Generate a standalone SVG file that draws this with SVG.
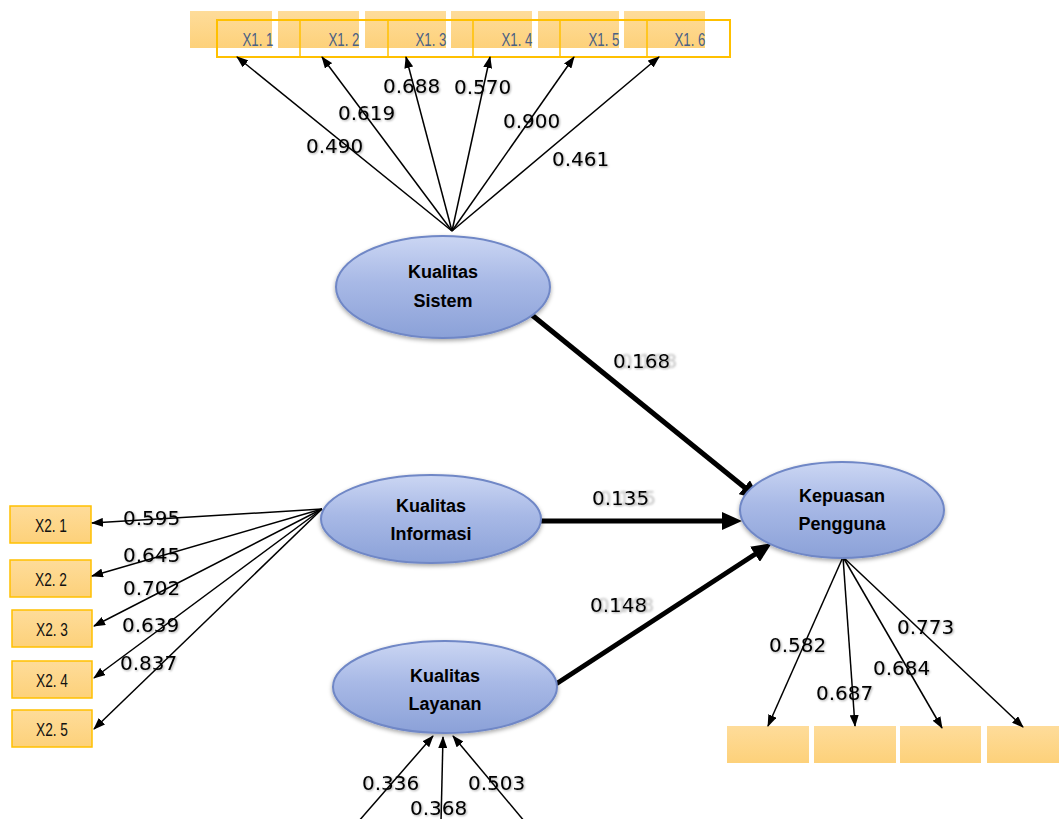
<svg xmlns="http://www.w3.org/2000/svg" width="1059" height="819" viewBox="0 0 1059 819">
<defs>
<linearGradient id="gEll" x1="0" y1="0" x2="0" y2="1">
<stop offset="0" stop-color="#cbd6f3"/>
<stop offset="0.45" stop-color="#a8b9e6"/>
<stop offset="1" stop-color="#8ba1d8"/>
</linearGradient>
<linearGradient id="gBox" x1="0" y1="0" x2="0" y2="1">
<stop offset="0" stop-color="#fedc9a"/>
<stop offset="1" stop-color="#fdd17a"/>
</linearGradient>
<filter id="sh" x="-20%" y="-20%" width="140%" height="150%">
<feDropShadow dx="0" dy="2" stdDeviation="2" flood-color="#000" flood-opacity="0.35"/>
</filter>
<filter id="tsh" x="-10%" y="-30%" width="130%" height="160%">
<feDropShadow dx="1" dy="1" stdDeviation="0.8" flood-color="#000" flood-opacity="0.35"/>
</filter>
<filter id="ghost" x="-10%" y="-30%" width="140%" height="160%">
<feOffset in="SourceAlpha" dx="7" dy="0" result="off"/>
<feGaussianBlur in="off" stdDeviation="0.8" result="offb"/>
<feFlood flood-color="#9a9a9a" flood-opacity="0.6" result="gc"/>
<feComposite in="gc" in2="offb" operator="in" result="g"/>
<feOffset in="SourceAlpha" dx="1" dy="1" result="s1"/>
<feGaussianBlur in="s1" stdDeviation="0.8" result="s2"/>
<feFlood flood-color="#000" flood-opacity="0.35" result="sc"/>
<feComposite in="sc" in2="s2" operator="in" result="s"/>
<feMerge><feMergeNode in="g"/><feMergeNode in="s"/><feMergeNode in="SourceGraphic"/></feMerge>
</filter>
<marker id="ah" viewBox="0 0 12 9" markerWidth="12" markerHeight="9" refX="11" refY="4.5" orient="auto" markerUnits="userSpaceOnUse">
<path d="M0,0 L12,4.5 L0,9 z" fill="#000"/>
</marker>
<marker id="ahT" viewBox="0 0 20 18" markerWidth="20" markerHeight="18" refX="6" refY="9" orient="auto" markerUnits="userSpaceOnUse">
<path d="M0,0 L20,9 L0,18 z" fill="#000"/>
</marker>
</defs>
<style>
.ell{fill:url(#gEll);stroke:#6f87c6;stroke-width:2;filter:url(#sh)}
.lt{font-family:"Liberation Sans",Arial,sans-serif;font-weight:bold;font-size:18px;fill:#000;text-anchor:middle}
.num{font-family:"DejaVu Sans",sans-serif;font-size:20px;fill:#000;filter:url(#tsh)}
.numg{font-family:"DejaVu Sans",sans-serif;font-size:20px;fill:#000;filter:url(#ghost)}
.thin{stroke:#000;stroke-width:1.5;fill:none;marker-end:url(#ah)}
.thick{stroke:#000;stroke-width:5;fill:none;marker-end:url(#ahT)}
.tbox{fill:url(#gBox)}
.obox{fill:none;stroke:#ffc000;stroke-width:2}
.lbox{fill:url(#gBox);stroke:#ffc000;stroke-width:1.5}
.x1{font-family:"Liberation Sans",Arial,sans-serif;font-size:18px;fill:#4a6185;text-anchor:middle}
.x2{font-family:"Liberation Sans",Arial,sans-serif;font-size:19px;fill:#111;text-anchor:middle}
</style>
<rect width="1059" height="819" fill="#fff"/>

<g id="indicators-x1">
<rect class="tbox" x="190" y="11" width="82" height="37"/>
<rect class="tbox" x="278" y="11" width="81" height="37"/>
<rect class="tbox" x="365" y="11" width="81" height="37"/>
<rect class="tbox" x="451" y="11" width="81" height="37"/>
<rect class="tbox" x="538" y="11" width="81" height="37"/>
<rect class="tbox" x="624" y="11" width="81" height="37"/>
<rect class="obox" x="217" y="20" width="513" height="37"/>
<line x1="300" y1="20" x2="300" y2="57" stroke="#ffc000" stroke-width="1.5"/>
<line x1="388" y1="20" x2="388" y2="57" stroke="#ffc000" stroke-width="1.5"/>
<line x1="473" y1="20" x2="473" y2="57" stroke="#ffc000" stroke-width="1.5"/>
<line x1="560" y1="20" x2="560" y2="57" stroke="#ffc000" stroke-width="1.5"/>
<line x1="647" y1="20" x2="647" y2="57" stroke="#ffc000" stroke-width="1.5"/>
<text class="x1" x="258" y="46" textLength="31" lengthAdjust="spacingAndGlyphs">X1. 1</text>
<text class="x1" x="344" y="46" textLength="31" lengthAdjust="spacingAndGlyphs">X1. 2</text>
<text class="x1" x="431" y="46" textLength="31" lengthAdjust="spacingAndGlyphs">X1. 3</text>
<text class="x1" x="517" y="46" textLength="31" lengthAdjust="spacingAndGlyphs">X1. 4</text>
<text class="x1" x="604" y="46" textLength="31" lengthAdjust="spacingAndGlyphs">X1. 5</text>
<text class="x1" x="690" y="46" textLength="31" lengthAdjust="spacingAndGlyphs">X1. 6</text>
</g>

<g id="indicators-x2">
<rect class="lbox" x="10" y="506" width="81" height="37"/>
<rect class="lbox" x="10" y="560" width="81" height="37"/>
<rect class="lbox" x="12" y="610" width="80" height="37"/>
<rect class="lbox" x="12" y="661" width="80" height="37"/>
<rect class="lbox" x="12" y="710" width="80" height="37"/>
<text class="x2" x="51" y="532" textLength="32" lengthAdjust="spacingAndGlyphs">X2. 1</text>
<text class="x2" x="51" y="586" textLength="32" lengthAdjust="spacingAndGlyphs">X2. 2</text>
<text class="x2" x="52" y="636" textLength="32" lengthAdjust="spacingAndGlyphs">X2. 3</text>
<text class="x2" x="52" y="687" textLength="32" lengthAdjust="spacingAndGlyphs">X2. 4</text>
<text class="x2" x="52" y="736" textLength="32" lengthAdjust="spacingAndGlyphs">X2. 5</text>
</g>

<g id="indicators-y">
<rect class="tbox" x="727" y="726" width="82" height="37"/>
<rect class="tbox" x="814" y="726" width="82" height="37"/>
<rect class="tbox" x="900" y="726" width="81" height="37"/>
<rect class="tbox" x="987" y="726" width="72" height="37"/>
</g>

<g id="connectors">
<line class="thin" x1="452" y1="231" x2="237" y2="57"/>
<line class="thin" x1="452" y1="231" x2="322" y2="57"/>
<line class="thin" x1="452" y1="231" x2="406" y2="57"/>
<line class="thin" x1="452" y1="231" x2="490" y2="57"/>
<line class="thin" x1="452" y1="231" x2="574" y2="57"/>
<line class="thin" x1="452" y1="231" x2="659" y2="57"/>

<line class="thin" x1="322" y1="509" x2="92" y2="523"/>
<line class="thin" x1="322" y1="509" x2="92" y2="576"/>
<line class="thin" x1="322" y1="509" x2="94" y2="626"/>
<line class="thin" x1="322" y1="509" x2="94" y2="678"/>
<line class="thin" x1="322" y1="509" x2="94" y2="729"/>

<line class="thin" x1="358" y1="822" x2="433" y2="736"/>
<line class="thin" x1="441" y1="822" x2="443" y2="737"/>
<line class="thin" x1="525" y1="822" x2="453" y2="736"/>

<line class="thin" x1="843" y1="557" x2="768" y2="726"/>
<line class="thin" x1="843" y1="557" x2="855" y2="726"/>
<line class="thin" x1="843" y1="557" x2="942" y2="728"/>
<line class="thin" x1="843" y1="557" x2="1023" y2="727"/>

<line class="thick" x1="527" y1="311" x2="749" y2="491"/>
<line class="thick" x1="541" y1="521" x2="728" y2="521"/>
<line class="thick" x1="556" y1="684" x2="760" y2="551"/>
</g>

<g id="node-kualitas-sistem">
<ellipse class="ell" cx="443" cy="287" rx="107" ry="51"/>
<text class="lt" x="443" y="278">Kualitas</text>
<text class="lt" x="443" y="307">Sistem</text>
</g>
<g id="node-kualitas-informasi">
<ellipse class="ell" cx="431" cy="519" rx="110" ry="44"/>
<text class="lt" x="431" y="512">Kualitas</text>
<text class="lt" x="431" y="540">Informasi</text>
</g>
<g id="node-kualitas-layanan">
<ellipse class="ell" cx="445" cy="687" rx="112" ry="46"/>
<text class="lt" x="445" y="682">Kualitas</text>
<text class="lt" x="445" y="710">Layanan</text>
</g>
<g id="node-kepuasan-pengguna">
<ellipse class="ell" cx="842" cy="510" rx="102" ry="48"/>
<text class="lt" x="842" y="502">Kepuasan</text>
<text class="lt" x="842" y="530">Pengguna</text>
</g>

<g id="labels">
<text class="num" x="306" y="153">0.490</text>
<text class="num" x="338" y="120">0.619</text>
<text class="num" x="383" y="93">0.688</text>
<text class="num" x="454" y="94">0.570</text>
<text class="num" x="503" y="128">0.900</text>
<text class="num" x="552" y="166">0.461</text>

<text class="numg" x="613" y="368">0.168</text>
<text class="numg" x="592" y="505">0.135</text>
<text class="numg" x="590" y="612">0.148</text>

<text class="num" x="123" y="525">0.595</text>
<text class="num" x="123" y="562">0.645</text>
<text class="num" x="123" y="595">0.702</text>
<text class="num" x="122" y="632">0.639</text>
<text class="num" x="120" y="670">0.837</text>

<text class="num" x="362" y="790">0.336</text>
<text class="num" x="410" y="815">0.368</text>
<text class="num" x="468" y="790">0.503</text>

<text class="num" x="769" y="652">0.582</text>
<text class="num" x="816" y="700">0.687</text>
<text class="num" x="873" y="675">0.684</text>
<text class="num" x="897" y="634">0.773</text>
</g>
</svg>
